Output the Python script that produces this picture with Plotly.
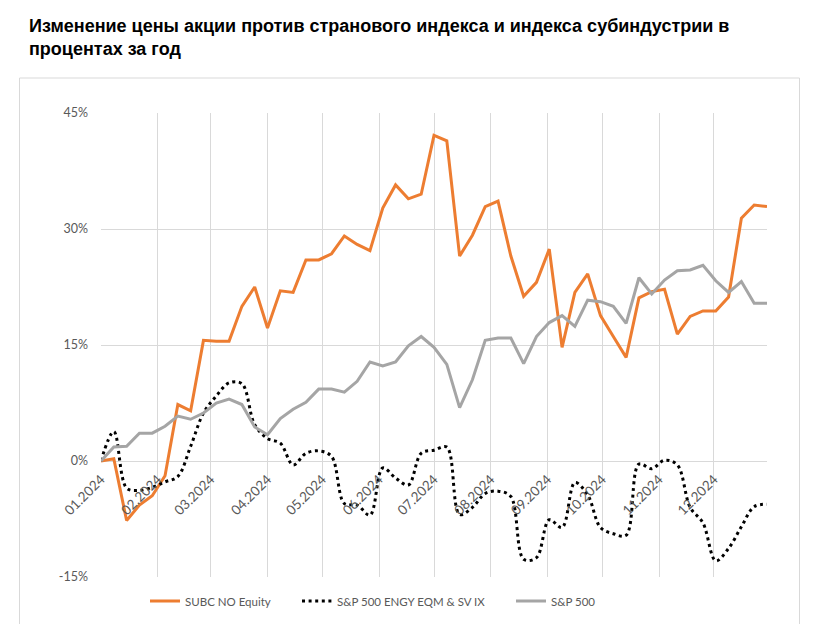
import plotly.graph_objects as go

weeks = [
    "2024-01-01", "2024-01-08", "2024-01-15", "2024-01-22", "2024-01-29",
    "2024-02-05", "2024-02-12", "2024-02-19", "2024-02-26",
    "2024-03-04", "2024-03-11", "2024-03-18", "2024-03-25",
    "2024-04-01", "2024-04-08", "2024-04-15", "2024-04-22", "2024-04-29",
    "2024-05-06", "2024-05-13", "2024-05-20", "2024-05-27",
    "2024-06-03", "2024-06-10", "2024-06-17", "2024-06-24",
    "2024-07-01", "2024-07-08", "2024-07-15", "2024-07-22", "2024-07-29",
    "2024-08-05", "2024-08-12", "2024-08-19", "2024-08-26",
    "2024-09-02", "2024-09-09", "2024-09-16", "2024-09-23", "2024-09-30",
    "2024-10-07", "2024-10-14", "2024-10-21", "2024-10-28",
    "2024-11-04", "2024-11-11", "2024-11-18", "2024-11-25",
    "2024-12-02", "2024-12-09", "2024-12-16", "2024-12-23", "2024-12-30",
]

subc = [0, 0.3, -7.7, -5.7, -4.5, -1.9, 7.3, 6.5, 15.6, 15.5, 15.5, 20.0, 22.5,
        17.2, 22.0, 21.8, 26.0, 26.0, 26.8, 29.1, 28.0, 27.2, 32.7, 35.7, 33.9,
        34.5, 42.1, 41.4, 26.5, 29.2, 32.9, 33.6, 26.5, 21.3, 23.1, 27.4, 14.7,
        21.8, 24.2, 18.8, 16.1, 13.4, 21.1, 21.9, 22.2, 16.4, 18.7, 19.4, 19.4,
        21.2, 31.4, 33.1, 32.9]

energy = [0, 3.8, -3.5, -3.8, -3.4, -2.7, -2.0, 1.9, 6.2, 8.4, 10.1, 10.0, 4.7,
          2.9, 2.3, -0.5, 1.0, 1.3, 0.6, -5.5, -5.7, -7.0, -0.9, -2.2, -3.1,
          1.0, 1.4, 1.8, -6.9, -6.0, -4.2, -3.9, -4.6, -12.7, -12.5, -7.6, -8.6,
          -2.8, -4.4, -8.6, -9.4, -9.6, -0.4, -1.0, 0.1, -0.5, -6.0, -8.0, -12.9,
          -11.3, -8.5, -5.9, -5.6]

spx = [0, 1.8, 1.9, 3.6, 3.6, 4.5, 5.8, 5.4, 6.2, 7.5, 8.0, 7.3, 4.4, 3.4, 5.5,
       6.7, 7.6, 9.3, 9.3, 8.9, 10.3, 12.8, 12.3, 12.8, 14.9, 16.1, 14.7, 12.5,
       6.9, 10.5, 15.6, 15.9, 15.9, 12.6, 16.1, 17.9, 18.8, 17.4, 20.8, 20.6,
       20.0, 17.8, 23.7, 21.6, 23.4, 24.6, 24.7, 25.3, 23.3, 21.8, 23.2, 20.4,
       20.4]

y_ticks = [-15, 0, 15, 30, 45]
y_labels = ["-15%", "0%", "15%", "30%", "45%"]
names = ["SUBC NO Equity", "S&P 500 ENGY EQM & SV IX", "S&P 500"]
title = ("<b>Изменение цены акции против странового индекса и индекса субиндустрии в"
         "<br>процентах за год</b>")

W, H = 821, 643
ML, MR, MT, MB = 101, 54, 113, 66
PW, PH = W - ML - MR, H - MT - MB

def px_x(p):
    return (p - ML) / PW

def px_y(p):
    return (H - MB - p) / PH

TXT = "#595959"
FONT = "Lato"
FS = 12

fig = go.Figure()
fig.add_trace(go.Scatter(x=weeks, y=subc, name=names[0], mode="lines",
                         legend="legend",
                         line=dict(color="#ED7D31", width=3)))
fig.add_trace(go.Scatter(x=weeks, y=energy, name=names[1], mode="lines",
                         legend="legend2",
                         line=dict(color="#000000", width=3, dash="3px,3.6px",
                                   shape="spline", smoothing=1.0)))
fig.add_trace(go.Scatter(x=weeks, y=spx, name=names[2], mode="lines",
                         legend="legend3",
                         line=dict(color="#A5A5A5", width=3)))

border = dict(type="line", xref="paper", yref="paper",
              line=dict(color="#D9D9D9", width=1))
x0, x1 = px_x(19.5), px_x(799.5)
y0, y1 = px_y(624), px_y(78)
shapes = [
    dict(border, x0=x0, x1=x1, y0=y1, y1=y1),
    dict(border, x0=x0, x1=x0, y0=y0, y1=y1),
    dict(border, x0=x1, x1=x1, y0=y0, y1=y1),
]

def leg(px):
    return dict(orientation="h", x=px_x(px), xanchor="left",
                y=px_y(601), yanchor="middle",
                font=dict(family=FONT, size=FS - 0.5, color=TXT),
                bgcolor="rgba(0,0,0,0)")

fig.update_layout(
    width=W, height=H,
    margin=dict(l=ML, r=MR, t=MT, b=MB),
    paper_bgcolor="white", plot_bgcolor="white",
    title=dict(text=title, x=29 / W, xref="container", xanchor="left",
               y=1 - 32 / H, yref="container", yanchor="top",
               font=dict(family="Liberation Sans", size=18, color="#000000")),
    showlegend=True,
    legend=leg(145), legend2=leg(297), legend3=leg(511),
    shapes=shapes,
    xaxis=dict(type="date", range=["2024-01-01", "2024-12-30"],
               tick0="2024-01-01", dtick="M1", tickformat="%m.%Y",
               tickangle=-45, showgrid=True, gridcolor="#D9D9D9", gridwidth=1,
               showline=False, zeroline=False, ticks="",
               anchor="free", position=0.25, ticklabelstandoff=7,
               tickfont=dict(family=FONT, size=FS + 1.5, color=TXT)),
    yaxis=dict(range=[-15, 45], tickvals=y_ticks, ticktext=y_labels,
               showgrid=True, gridcolor="#D9D9D9", gridwidth=1,
               zeroline=False, showline=False, ticks="", ticklabelstandoff=12,
               tickfont=dict(family=FONT, size=FS + 0.5, color=TXT)),
)

fig.write_html("out.html", config={"displayModeBar": False},
               post_script="document.body.style.margin='0';")
